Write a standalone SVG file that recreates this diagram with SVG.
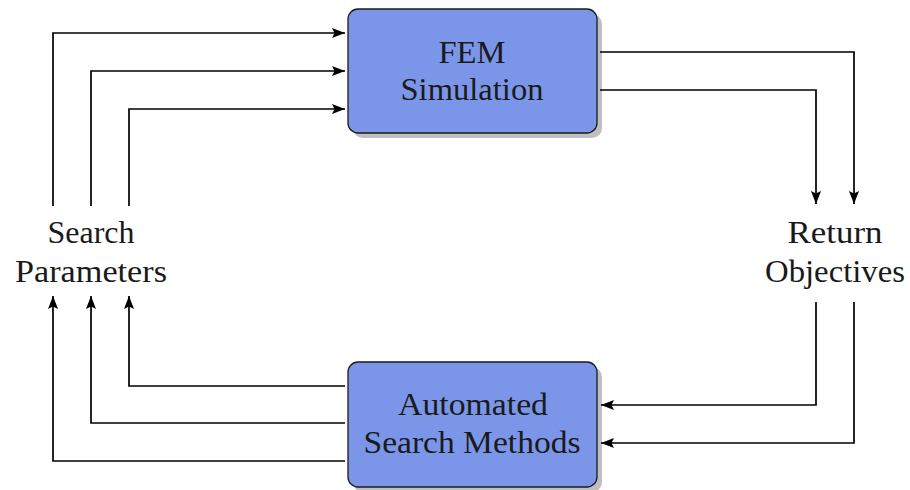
<svg xmlns="http://www.w3.org/2000/svg" width="910" height="490" viewBox="0 0 910 490">
<style>
.box{fill:#7b96e9;stroke:#1a1a1a;stroke-width:1.3}
.shadow{fill:#bfbfbf}
.lbl{font-family:"Liberation Serif","Times New Roman",serif;font-size:32.5px;fill:#1a1a1a;text-anchor:middle}
.con{fill:none;stroke:#000;stroke-width:1.7}
</style>
<defs>
<marker id="ah" markerUnits="userSpaceOnUse" markerWidth="14" markerHeight="11" refX="13" refY="5" orient="auto">
<path d="M0,0 L13,5 L0,10 L2.5,5 z" fill="#000"/>
</marker>
</defs>
<rect width="910" height="490" fill="#fff"/>
<g id="fem">
<rect class="shadow" x="353" y="14" width="249" height="124" rx="10"/>
<rect class="box" x="348" y="9" width="249" height="124" rx="10"/>
<text class="lbl" x="472" y="63" textLength="67" lengthAdjust="spacingAndGlyphs">FEM</text>
<text class="lbl" x="472" y="100" textLength="143" lengthAdjust="spacingAndGlyphs">Simulation</text>
</g>
<g id="asm">
<rect class="shadow" x="353" y="367" width="249" height="125" rx="10"/>
<rect class="box" x="348" y="362" width="249" height="125" rx="10"/>
<text class="lbl" x="473" y="415" textLength="150" lengthAdjust="spacingAndGlyphs">Automated</text>
<text class="lbl" x="472" y="453" textLength="217" lengthAdjust="spacingAndGlyphs">Search Methods</text>
</g>
<g id="search">
<text class="lbl" x="91" y="243" textLength="87" lengthAdjust="spacingAndGlyphs">Search</text>
<text class="lbl" x="91" y="282" textLength="152" lengthAdjust="spacingAndGlyphs">Parameters</text>
</g>
<g id="return">
<text class="lbl" x="835" y="243" textLength="95" lengthAdjust="spacingAndGlyphs">Return</text>
<text class="lbl" x="835" y="282" textLength="140" lengthAdjust="spacingAndGlyphs">Objectives</text>
</g>
<g id="connectors">
<path class="con" marker-end="url(#ah)" d="M53,206 V33 H345"/>
<path class="con" marker-end="url(#ah)" d="M91,206 V71 H345"/>
<path class="con" marker-end="url(#ah)" d="M129,206 V109 H345"/>
<path class="con" marker-end="url(#ah)" d="M600,52 H854 V204"/>
<path class="con" marker-end="url(#ah)" d="M600,90 H816 V204"/>
<path class="con" marker-end="url(#ah)" d="M816,302 V405 H601"/>
<path class="con" marker-end="url(#ah)" d="M854,302 V443 H601"/>
<path class="con" marker-end="url(#ah)" d="M345,386 H129 V296"/>
<path class="con" marker-end="url(#ah)" d="M345,423 H91 V296"/>
<path class="con" marker-end="url(#ah)" d="M345,461 H53 V296"/>
</g>
</svg>
